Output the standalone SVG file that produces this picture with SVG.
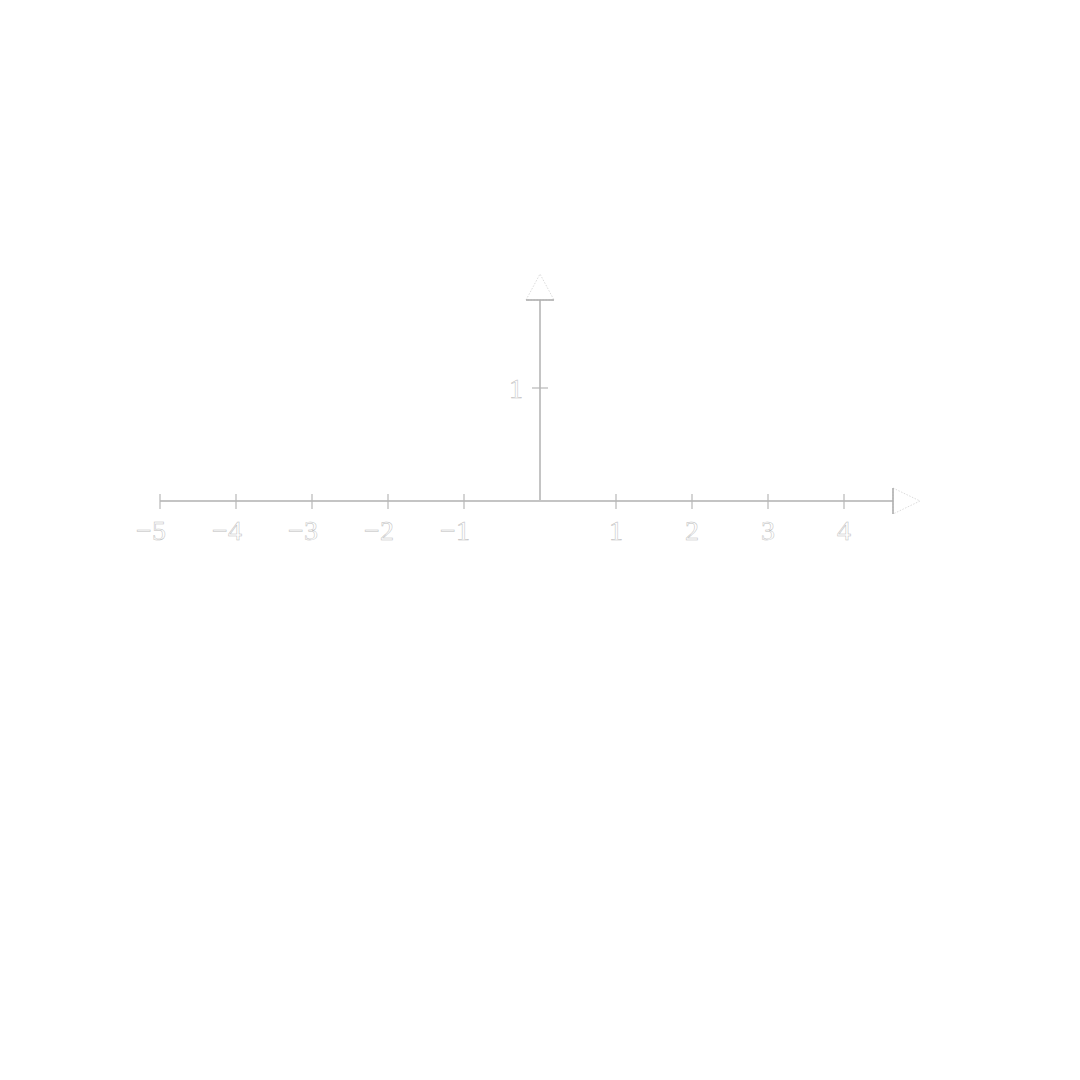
<svg xmlns="http://www.w3.org/2000/svg" width="1080" height="1080" viewBox="0 0 1080 1080">
<style>
.ax{stroke:#c4c4c4;stroke-width:2;fill:none}
.tk{stroke:#b8b8b8;stroke-width:1.2;fill:none}
.hd{fill:#fff;stroke:#dcdcdc;stroke-width:1;stroke-dasharray:1.5 1.5}
.hb{stroke:#aaa;stroke-width:1.5}
.lb{font-family:"Liberation Serif","DejaVu Serif",serif;font-size:28px;fill:#fff;stroke:#bdbdbd;stroke-width:0.5;text-anchor:middle}
</style>
<rect width="1080" height="1080" fill="#fff"/>
<g id="axes">
<line class="ax" x1="160" y1="501" x2="893" y2="501"/>
<line class="ax" x1="540" y1="501" x2="540" y2="300"/>
<polygon class="hd" points="893,488 920,501 893,514"/>
<line class="hb" x1="893" y1="488" x2="893" y2="514"/>
<polygon class="hd" points="526,300 540,274 554,300"/>
<line class="hb" x1="526" y1="300" x2="554" y2="300"/>
</g>
<g id="ticks">
<line class="tk" x1="160" y1="494" x2="160" y2="509"/>
<line class="tk" x1="236" y1="494" x2="236" y2="509"/>
<line class="tk" x1="312" y1="494" x2="312" y2="509"/>
<line class="tk" x1="388" y1="494" x2="388" y2="509"/>
<line class="tk" x1="464" y1="494" x2="464" y2="509"/>
<line class="tk" x1="616" y1="494" x2="616" y2="509"/>
<line class="tk" x1="692" y1="494" x2="692" y2="509"/>
<line class="tk" x1="768" y1="494" x2="768" y2="509"/>
<line class="tk" x1="844" y1="494" x2="844" y2="509"/>
<line class="tk" x1="532" y1="388" x2="548" y2="388"/>
</g>
<g id="labels">
<text class="lb" x="151" y="540">−5</text>
<text class="lb" x="227" y="540">−4</text>
<text class="lb" x="303" y="540">−3</text>
<text class="lb" x="379" y="540">−2</text>
<text class="lb" x="455" y="540">−1</text>
<text class="lb" x="616" y="540">1</text>
<text class="lb" x="692" y="540">2</text>
<text class="lb" x="768" y="540">3</text>
<text class="lb" x="844" y="540">4</text>
<text class="lb" x="516" y="398">1</text>
</g>
</svg>
